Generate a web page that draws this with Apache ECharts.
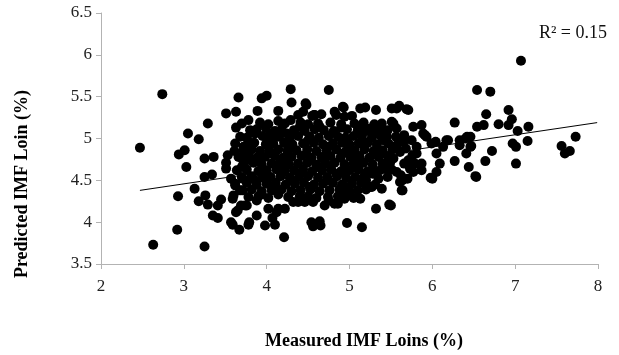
<!DOCTYPE html>
<html lang="en" style="height: 100%">
<head>
  <meta charset="utf-8">
</head>
<body style="height: 100%; margin: 0; background: #fff">
<div id="container" style="width: 619px; height: 355px"></div>

<script type="text/javascript" src="https://fastly.jsdelivr.net/npm/echarts@6/dist/echarts.min.js"></script>
<script type="text/javascript">
  // measured IMF (x) vs predicted IMF (y)
  var leftPoints = [
    [2.74,5.53],[2.47,4.89],[3.66,5.49],[3.51,5.30],[3.63,5.32],[3.29,5.18],[3.63,5.13],[3.78,5.22],
    [3.05,5.06],[3.18,4.99],[3.78,4.96],[2.94,4.81],[3.01,4.86],[3.03,4.66],[3.25,4.76],[3.36,4.78],
    [3.53,4.80],[3.61,4.85],[3.51,4.71],[3.71,4.76],
    [3.25,4.54],[3.34,4.57],[3.51,4.64],[2.93,4.31],[3.13,4.40],[3.18,4.25],[3.26,4.32],[3.29,4.21],
    [3.41,4.20],[3.45,4.27],[3.35,4.08],[3.41,4.05],[2.92,3.91],[2.63,3.73],[3.25,3.71],[3.59,4.28],
    [3.63,4.12],[3.57,4.00],[3.59,3.97],[3.67,3.91],[3.78,3.97],[3.71,4.38],[3.76,4.20],[3.57,4.52],
    [3.71,4.52],[3.65,4.14],[3.69,4.20],[3.60,4.32],[3.62,4.44],[3.88,4.08],[3.79,4.00]
  ];
  var topPoints = [
    [4.29,5.59],[4.75,5.58],[3.94,5.48],[4.00,5.51],[4.30,5.43],[3.89,5.33],[4.14,5.33],[4.44,5.32],
    [4.48,5.40],[4.14,5.21],[4.29,5.22],[3.99,5.13],[4.58,5.28],[4.82,5.32],[4.93,5.37],[5.13,5.36],
    [5.19,5.37],[5.32,5.34],[5.51,5.36],[4.94,5.26],[5.39,5.18],[5.25,5.12],[3.82,5.07],[4.09,5.02],
    [4.24,5.06],[5.51,5.20],[5.45,5.02],[4.57,5.28],[4.47,5.42],[4.92,5.38],[5.60,5.39],[5.69,5.35],
    [5.57,5.36],[5.71,5.34]
  ];
  var bottomPoints = [
    [3.98,3.96],[4.10,3.97],[4.21,3.82],[4.54,4.00],[4.64,4.01],[4.56,3.95],[4.65,3.96],[4.97,3.99],
    [5.15,3.94],[5.32,4.16],[5.48,4.21],[5.29,4.61],[5.35,4.52],[5.25,4.42],[5.51,4.63],[4.94,4.28],
    [5.13,4.28],[4.70,4.20],[4.82,4.22],[4.38,4.24],[4.46,4.24],[4.02,4.16],[4.14,4.16],[3.74,4.20],
    [3.88,4.26],[5.39,4.40],[5.27,4.42],[4.86,4.22],[4.75,4.26],[4.56,4.24],[4.32,4.24],[4.22,4.16],
    [4.12,4.12],[4.07,4.05],[5.64,4.38],[5.64,4.50],[5.61,4.48]
  ];
  var rightPoints = [
    [7.07,5.93],[6.54,5.58],[6.70,5.56],[6.92,5.34],[6.65,5.29],[6.96,5.23],[6.92,5.16],[6.80,5.17],
    [7.16,5.14],[7.03,5.09],[7.15,4.97],[6.97,4.94],[7.01,4.90],[7.73,5.02],[7.56,4.91],[7.60,4.82],
    [7.66,4.85],[7.01,4.70],[6.72,4.85],[6.64,4.73],[6.44,4.66],[6.52,4.55],[6.27,4.73],[6.27,5.19],
    [6.54,5.14],[6.62,5.16],[6.46,5.02],[6.40,5.00],[6.33,4.92],[6.47,4.91],[6.41,4.82],[6.19,4.98],
    [6.13,4.90],[6.04,4.96],[6.05,4.82],[6.09,4.70],[6.05,4.60],[5.98,4.53],[5.87,5.16],[5.77,5.14],
    [5.89,5.06],[5.93,5.02],[5.81,4.90],[5.81,4.82],[5.87,4.70],[5.87,4.62],[5.77,4.60],[5.53,5.18],
    [5.57,5.12],[5.57,4.92],[5.65,4.96],[5.53,4.76],[5.61,4.84],[5.71,4.74],[5.73,4.64],[5.57,4.60],
    [5.63,4.38],[5.50,4.20],[6.00,4.52],[6.53,4.54],[5.91,5.04],[5.99,4.94],[6.17,4.98],[6.33,4.98],
    [6.42,5.02],[6.46,4.90],[5.66,5.04],[5.75,4.98],[5.68,4.88],[5.76,4.80],[5.66,4.70],[5.79,4.70],
    [5.62,4.56],[5.70,4.52]
  ];
  // the dense middle of the cloud
  var corePoints = [
    [4.38,5.28],[4.55,5.27],[4.66,5.29],[4.84,5.28],[5.03,5.27],
    [3.70,5.18],[3.92,5.19],[4.02,5.17],[4.22,5.18],[4.41,5.19],[4.50,5.17],[4.62,5.18],[4.77,5.19],
    [4.90,5.17],[5.06,5.18],[5.17,5.19],[5.30,5.17],
    [3.80,5.10],[3.88,5.11],[4.10,5.09],[4.18,5.11],[4.33,5.10],[4.46,5.09],[4.58,5.11],[4.69,5.10],
    [4.81,5.09],[4.97,5.11],[5.10,5.10],[5.21,5.09],[5.36,5.11],[5.46,5.10],
    [3.68,5.02],[3.76,5.01],[3.95,5.03],[4.15,5.02],[4.28,5.01],[4.38,5.03],[4.52,5.02],[4.63,5.01],
    [4.75,5.03],[4.86,5.02],[4.95,5.01],[5.05,5.03],[5.15,5.02],[5.27,5.01],[5.38,5.03],[5.56,5.02],
    [3.62,4.94],[3.85,4.95],[3.99,4.93],[4.08,4.94],[4.21,4.95],[4.31,4.93],[4.44,4.94],[4.57,4.95],
    [4.68,4.93],[4.80,4.94],[4.91,4.95],[5.00,4.93],[5.11,4.94],[5.22,4.95],[5.33,4.93],[5.47,4.94],
    [3.72,4.86],[3.82,4.87],[3.92,4.85],[4.03,4.86],[4.14,4.87],[4.25,4.85],[4.36,4.86],[4.49,4.87],
    [4.60,4.85],[4.72,4.86],[4.84,4.87],[4.96,4.85],[5.06,4.86],[5.18,4.87],[5.29,4.85],[5.40,4.86],
    [5.52,4.87],
    [3.66,4.78],[3.78,4.79],[3.88,4.77],[3.98,4.78],[4.10,4.79],[4.20,4.77],[4.30,4.78],[4.42,4.79],
    [4.54,4.77],[4.66,4.78],[4.77,4.79],[4.89,4.77],[5.01,4.78],[5.12,4.79],[5.24,4.77],[5.35,4.78],
    [5.46,4.79],
    [3.72,4.70],[3.84,4.71],[3.94,4.69],[4.06,4.70],[4.16,4.71],[4.27,4.69],[4.38,4.70],[4.49,4.71],
    [4.60,4.69],[4.71,4.70],[4.82,4.71],[4.94,4.69],[5.05,4.70],[5.17,4.71],[5.28,4.69],[5.40,4.70],
    [5.49,4.71],
    [3.64,4.62],[3.76,4.63],[3.90,4.61],[4.00,4.62],[4.12,4.63],[4.22,4.61],[4.33,4.62],[4.44,4.63],
    [4.55,4.61],[4.67,4.62],[4.78,4.63],[4.90,4.61],[5.00,4.62],[5.11,4.63],[5.22,4.61],[5.37,4.62],
    [5.45,4.63],
    [3.70,4.54],[3.82,4.55],[3.95,4.53],[4.05,4.54],[4.17,4.55],[4.28,4.53],[4.39,4.54],[4.50,4.55],
    [4.62,4.53],[4.73,4.54],[4.85,4.55],[4.96,4.53],[5.07,4.54],[5.18,4.55],[5.46,4.54],
    [3.62,4.46],[3.76,4.47],[3.88,4.45],[4.00,4.46],[4.11,4.47],[4.23,4.45],[4.34,4.46],[4.45,4.47],
    [4.57,4.45],[4.68,4.46],[4.80,4.47],[4.91,4.45],[5.03,4.46],[5.14,4.47],[5.31,4.45],
    [3.68,4.38],[3.82,4.39],[3.94,4.37],[4.06,4.38],[4.18,4.39],[4.30,4.37],[4.41,4.38],[4.53,4.39],
    [4.64,4.37],[4.76,4.38],[4.88,4.39],[5.00,4.37],[5.10,4.38],[5.20,4.39],
    [3.78,4.30],[3.90,4.31],[4.02,4.29],[4.26,4.30],[4.50,4.31],[4.60,4.29],[4.74,4.30],[4.86,4.31],
    [5.05,4.29]
  ];
  // points sitting in the gaps of the dense middle
  var fillPoints = [
    [3.86,5.06],[4.04,5.06],[4.40,5.14],[4.64,5.14],[4.90,5.13],[5.14,5.14],[5.32,5.06],
    [3.72,4.90],[4.03,4.98],[4.26,4.90],[4.50,4.98],[4.74,4.90],[4.96,4.98],[5.18,4.90],[5.41,4.98],
    [3.80,4.74],[4.05,4.82],[4.24,4.74],[4.48,4.82],[4.70,4.74],[4.92,4.82],[5.12,4.74],[5.35,4.82],
    [3.70,4.66],[3.96,4.58],[4.18,4.66],[4.40,4.58],[4.62,4.66],[4.84,4.58],[5.06,4.66],[5.28,4.58],
    [3.86,4.50],[4.08,4.42],[4.30,4.50],[4.52,4.42],[4.74,4.50],[4.96,4.42],[5.20,4.50],
    [3.94,4.33],[4.14,4.33],[4.40,4.31],[4.96,4.33]
  ];
  var trendLine = [[2.47, 4.38], [7.99, 5.19]];
  var rSquaredText = 'R² = 0.15';
  var xTitle = 'Measured IMF Loins (%)';
  var yTitle = 'Predicted IMF Loin (%)';

  var allPoints = leftPoints.concat(topPoints, bottomPoints, rightPoints, corePoints, fillPoints);

  var dom = document.getElementById('container');
  var myChart = echarts.init(dom, null, { renderer: 'canvas' });

  var serif = 'Liberation Serif';
  var axisGrey = '#b3b3b3';

  var option = {
    animation: false,
    backgroundColor: '#fff',
    grid: { left: 101, right: 21, top: 13, bottom: 91 },
    xAxis: {
      type: 'value',
      min: 2,
      max: 8,
      interval: 1,
      splitLine: { show: false },
      axisLine: { show: true, lineStyle: { color: axisGrey, width: 1 } },
      axisTick: { show: true, length: 5, lineStyle: { color: axisGrey } },
      axisLabel: { margin: 14, color: '#222', fontFamily: serif, fontSize: 17 }
    },
    yAxis: {
      type: 'value',
      min: 3.5,
      max: 6.5,
      interval: 0.5,
      splitLine: { show: false },
      axisLine: { show: true, lineStyle: { color: axisGrey, width: 1 } },
      axisTick: { show: true, length: 5, lineStyle: { color: axisGrey } },
      axisLabel: { margin: 9, color: '#222', fontFamily: serif, fontSize: 17 }
    },
    graphic: [
      {
        type: 'text',
        x: 364,
        y: 341,
        style: {
          text: xTitle,
          fill: '#000',
          font: 'bold 18px "Liberation Serif"',
          align: 'center',
          verticalAlign: 'middle'
        }
      },
      {
        type: 'text',
        x: 22,
        y: 184,
        rotation: Math.PI / 2,
        style: {
          text: yTitle,
          fill: '#000',
          font: 'bold 18px "Liberation Serif"',
          align: 'center',
          verticalAlign: 'middle'
        }
      },
      {
        type: 'text',
        x: 607,
        y: 33,
        style: {
          text: rSquaredText,
          fill: '#111',
          font: '18px "Liberation Serif"',
          align: 'right',
          verticalAlign: 'middle'
        }
      }
    ],
    series: [
      {
        type: 'line',
        data: trendLine,
        showSymbol: false,
        lineStyle: { color: '#000', width: 1 },
        z: 1,
        silent: true
      },
      {
        type: 'scatter',
        data: allPoints,
        symbol: 'circle',
        symbolSize: 10,
        itemStyle: { color: '#000', opacity: 1 },
        z: 2,
        silent: true
      }
    ]
  };

  myChart.setOption(option);
  window.addEventListener('resize', myChart.resize);
</script>
</body>
</html>
